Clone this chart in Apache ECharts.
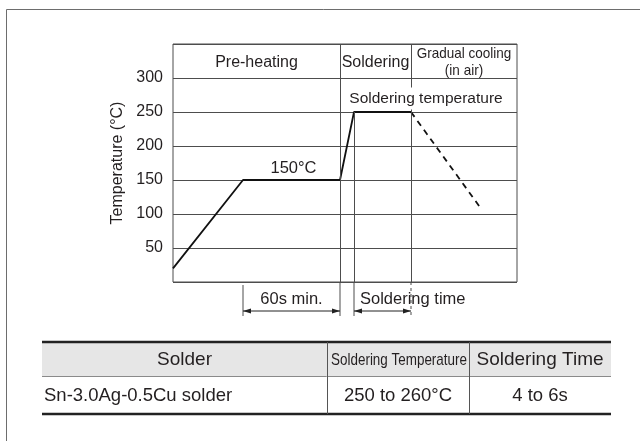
<!DOCTYPE html>
<html><head><meta charset="utf-8">
<script src="https://cdn.jsdelivr.net/npm/echarts@6/dist/echarts.min.js"></script>
<style>html,body{margin:0;padding:0;background:#fff}#c{width:640px;height:441px}</style>
</head><body><div id="c"></div>
<script>
// ---- data ----
const tempTicks = [50, 100, 150, 200, 250, 300];
const profileTime = [0, 70, 167, 181, 238];
const profileTemp = [20, 150, 150, 250, 250];
const coolingTime = [238, 307];
const coolingTemp = [250, 110];
const phaseNames = ['Pre-heating', 'Soldering', 'Gradual cooling\n(in air)'];
const phaseBounds = [0, 167, 238, 344];
const preheatStart = 70;
const solderStart = 181;
const preheatTemp = 150;
const solderTemp = 250;
const tableHeaders = ['Solder', 'Soldering Temperature', 'Soldering Time'];
const tableRow = ['Sn-3.0Ag-0.5Cu solder', '250 to 260°C', '4 to 6s'];

const FONT = '"Liberation Sans", Arial, Helvetica, sans-serif';
const TXT = '#231f20';
const LINE = '#4d4d4d';

const chart = echarts.init(document.getElementById('c'));
chart.setOption({
  animation: false,
  backgroundColor: '#fff',
  grid: { left: 173, top: 44, width: 344, height: 238, show: true, borderColor: LINE, borderWidth: 1 },
  xAxis: { type: 'value', min: phaseBounds[0], max: phaseBounds[3], show: false },
  yAxis: {
    type: 'value', min: 0, max: 350, interval: 50,
    name: 'Temperature (°C)', nameLocation: 'middle', nameGap: 47,
    nameTextStyle: { fontFamily: FONT, fontSize: 16, color: TXT },
    axisLine: { show: false }, axisTick: { show: false },
    axisLabel: { fontFamily: FONT, fontSize: 16, color: TXT, margin: 10,
      formatter: v => tempTicks.includes(v) ? String(v) : '' },
    splitLine: { show: true, lineStyle: { color: LINE, width: 1 } }
  },
  series: [
    { type: 'line', data: profileTime.map((t, i) => [t, profileTemp[i]]), symbol: 'none',
      lineStyle: { color: '#111', width: 1.8 },
      markLine: { silent: true, symbol: 'none', label: { show: false },
        lineStyle: { color: LINE, width: 1, type: 'solid' },
        data: [
          { xAxis: phaseBounds[1] },
          { xAxis: phaseBounds[2] },
          [{ coord: [solderStart, 0] }, { coord: [solderStart, solderTemp] }]
        ] } },
    { type: 'line', data: coolingTime.map((t, i) => [t, coolingTemp[i]]), symbol: 'none',
      lineStyle: { color: '#111', width: 1.8, type: [6, 5] } }
  ]
});

const P = (x, y) => chart.convertToPixel({ gridIndex: 0 }, [x, y]);
const bottomY = P(0, 0)[1];
const g = [];
function text(x, y, s, style, extra) {
  g.push(Object.assign({ type: 'text', x: x, y: y, z: 10,
    style: Object.assign({ text: s, font: '16px ' + FONT, fill: TXT, textAlign: 'center', textVerticalAlign: 'middle' }, style || {}) },
    extra || {}));
}
function line(x1, y1, x2, y2, w, color, dash) {
  g.push({ type: 'line', z: 5, shape: { x1, y1, x2, y2 }, style: { stroke: color || LINE, lineWidth: w || 1, lineDash: dash || null } });
}
function arrowHead(x, y, dir) {
  g.push({ type: 'polygon', z: 6, shape: { points: [[x, y], [x - dir * 8, y - 2.5], [x - dir * 8, y + 2.5]] }, style: { fill: '#222' } });
}

// outer frame (cropped)
g.push({ type: 'rect', shape: { x: 6.5, y: 9.5, width: 700, height: 500 }, style: { fill: null, stroke: '#6d6d6d', lineWidth: 1 }, z: 1 });

// header labels
const headY = P(0, 323)[1];
for (let i = 0; i < phaseNames.length; i++) {
  const cx = (P(phaseBounds[i], 0)[0] + P(phaseBounds[i + 1], 0)[0]) / 2;
  if (i === 2) {
    const parts = phaseNames[i].split('\n');
    text(cx, headY - 9, parts[0], { font: '15px ' + FONT }, { scaleX: 0.9 });
    text(cx, headY + 8, parts[1], { font: '15px ' + FONT }, { scaleX: 0.9 });
  } else {
    text(cx, headY, phaseNames[i], { font: '16px ' + FONT });
  }
}
// Soldering temperature label
const stp = P(253, 270);
text(stp[0], stp[1], 'Soldering temperature', { font: '15.5px ' + FONT, backgroundColor: '#fff', padding: [3, 2] });
// 150°C label
const lp = P((preheatStart + phaseBounds[1]) / 2 + 2, preheatTemp);
text(lp[0], lp[1] - 12, '150°C', { font: '16.5px ' + FONT });

// dimension lines below the chart
const yEnd = bottomY + 34, yArr = bottomY + 29, yTxt = bottomY + 17;
const xa = P(preheatStart, 0)[0], xb = P(phaseBounds[1], 0)[0], xc = P(solderStart, 0)[0], xd = P(phaseBounds[2], 0)[0];
line(xa, bottomY + 3, xa, yEnd);
line(xb, bottomY, xb, yEnd);
line(xc, bottomY, xc, yEnd);
line(xd, bottomY, xd, yEnd, 1, LINE, [3, 3]);
line(xa, yArr, xb, yArr, 1, '#222');
arrowHead(xa, yArr, -1); arrowHead(xb, yArr, 1);
line(xc, yArr, xd, yArr, 1, '#222');
arrowHead(xc, yArr, -1); arrowHead(xd, yArr, 1);
text((xa + xb) / 2, yTxt, '60s min.', { font: '16.5px ' + FONT });
text(xc + 6, yTxt, 'Soldering time', { font: '16.5px ' + FONT, textAlign: 'left' });

// table
const tL = 42, tR = 611, tTop = 342, tHead = 376, tBot = 414;
const colX = [tL, 327, 469, tR];
g.push({ type: 'rect', z: 2, shape: { x: tL, y: tTop, width: tR - tL, height: tHead - tTop }, style: { fill: '#e6e6e6' } });
line(tL, tTop, tR, tTop, 2.4, '#222');
line(tL, tHead + 0.5, tR, tHead + 0.5, 1, '#8a8a8a');
line(tL, tBot, tR, tBot, 2.4, '#222');
line(colX[1] + 0.5, tTop, colX[1] + 0.5, tBot, 1, '#555');
line(colX[2] + 0.5, tTop, colX[2] + 0.5, tBot, 1, '#555');
const hY = (tTop + tHead) / 2 + 1, rY = (tHead + tBot) / 2 + 1;
text((colX[0] + colX[1]) / 2, hY, tableHeaders[0], { font: '19px ' + FONT });
text((colX[1] + colX[2]) / 2 + 1, hY, tableHeaders[1], { font: '17px ' + FONT }, { scaleX: 0.79 });
text((colX[2] + colX[3]) / 2, hY, tableHeaders[2], { font: '19px ' + FONT });
text(tL + 2, rY, tableRow[0], { font: '18.5px ' + FONT, textAlign: 'left' });
text((colX[1] + colX[2]) / 2, rY, tableRow[1], { font: '18.5px ' + FONT });
text((colX[2] + colX[3]) / 2, rY, tableRow[2], { font: '18.5px ' + FONT });

chart.setOption({ graphic: { elements: g } });
</script></body></html>
